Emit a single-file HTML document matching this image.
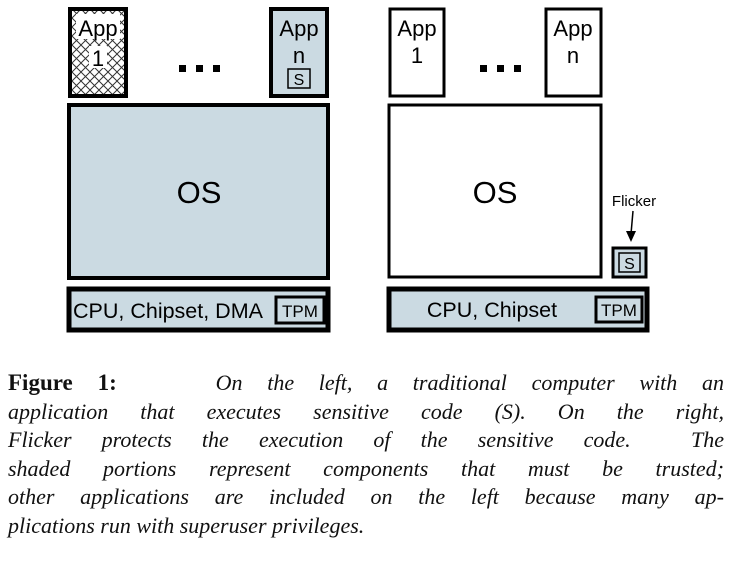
<!DOCTYPE html>
<html><head><style>
body{margin:0;background:#fff;width:731px;height:569px;overflow:hidden;position:relative}
.cap{position:absolute;left:8px;width:716px;font-family:"Liberation Serif",serif;font-style:italic;font-size:22px;line-height:28.6px;top:369px;color:#111}
.l{display:block;text-align:justify;text-align-last:justify;height:28.6px;white-space:nowrap}
.l.last{text-align-last:left}
b{font-style:normal;font-weight:bold;font-size:23px}
</style></head><body>
<svg width="731" height="360" style="position:absolute;left:0;top:0" font-family="Liberation Sans, sans-serif">
<defs>
<pattern id="x" width="9" height="9" patternUnits="userSpaceOnUse">
<rect width="9" height="9" fill="#fff"/>
<path d="M0 0L9 9M9 0L0 9" stroke="#333" stroke-width="1"/>
</pattern>
</defs>
<rect x="70" y="9" width="56" height="87" fill="url(#x)" stroke="#000" stroke-width="4"/>
<rect x="76" y="14" width="44" height="25" fill="#fff"/>
<rect x="89" y="46" width="18" height="22" fill="#fff"/>
<text x="98" y="36" font-size="22" text-anchor="middle">App</text>
<text x="98" y="66" font-size="22" text-anchor="middle">1</text>
<rect x="179" y="65" width="7" height="7" fill="#000"/>
<rect x="196" y="65" width="7" height="7" fill="#000"/>
<rect x="213" y="65" width="7" height="7" fill="#000"/>
<rect x="271" y="9" width="56" height="87" fill="#cbdae2" stroke="#000" stroke-width="4"/>
<text x="299" y="36" font-size="22" text-anchor="middle">App</text>
<text x="299" y="63" font-size="22" text-anchor="middle">n</text>
<rect x="288" y="69" width="22" height="19" fill="none" stroke="#000" stroke-width="1.5"/>
<text x="299" y="85" font-size="16" text-anchor="middle">S</text>
<rect x="69" y="105" width="259" height="173" fill="#cbdae2" stroke="#000" stroke-width="4"/>
<text x="199" y="203" font-size="31" text-anchor="middle">OS</text>
<rect x="69" y="289" width="259" height="41" fill="#cbdae2" stroke="#000" stroke-width="5"/>
<text x="73" y="318" font-size="21.5">CPU, Chipset, DMA</text>
<rect x="276" y="297" width="48" height="26" fill="none" stroke="#000" stroke-width="3"/>
<text x="300" y="317" font-size="17" text-anchor="middle">TPM</text>
<rect x="390" y="9" width="54" height="87" fill="#fff" stroke="#000" stroke-width="3"/>
<text x="417" y="36" font-size="22" text-anchor="middle">App</text>
<text x="417" y="63" font-size="22" text-anchor="middle">1</text>
<rect x="480" y="65" width="7" height="7" fill="#000"/>
<rect x="497" y="65" width="7" height="7" fill="#000"/>
<rect x="514" y="65" width="7" height="7" fill="#000"/>
<rect x="546" y="9" width="55" height="87" fill="#fff" stroke="#000" stroke-width="3"/>
<text x="573" y="36" font-size="22" text-anchor="middle">App</text>
<text x="573" y="63" font-size="22" text-anchor="middle">n</text>
<rect x="389" y="105" width="212" height="172" fill="#fff" stroke="#000" stroke-width="3"/>
<text x="495" y="203" font-size="31" text-anchor="middle">OS</text>
<text x="634" y="206" font-size="15" text-anchor="middle">Flicker</text>
<line x1="633" y1="211" x2="631" y2="234" stroke="#000" stroke-width="1.5"/>
<path d="M626 231 L631 242 L636 231 Z" fill="#000"/>
<rect x="613" y="248" width="33" height="29" fill="#cbdae2" stroke="#000" stroke-width="3"/>
<rect x="619" y="253" width="21" height="19" fill="none" stroke="#000" stroke-width="1.5"/>
<text x="629.5" y="269" font-size="16" text-anchor="middle">S</text>
<rect x="389" y="289" width="258" height="41" fill="#cbdae2" stroke="#000" stroke-width="5"/>
<text x="492" y="317" font-size="21.5" text-anchor="middle">CPU, Chipset</text>
<rect x="596" y="297" width="46" height="25" fill="none" stroke="#000" stroke-width="3"/>
<text x="619" y="316" font-size="17" text-anchor="middle">TPM</text>
</svg>
<div class="cap">
<span class="l"><b>Figure 1:</b>&nbsp;&nbsp;&nbsp; On the left, a traditional computer with an</span>
<span class="l">application that executes sensitive code (S). On the right,</span>
<span class="l">Flicker protects the execution of the sensitive code.&nbsp; The</span>
<span class="l">shaded portions represent components that must be trusted;</span>
<span class="l">other applications are included on the left because many ap-</span>
<span class="l last">plications run with superuser privileges.</span>
</div>
</body></html>
